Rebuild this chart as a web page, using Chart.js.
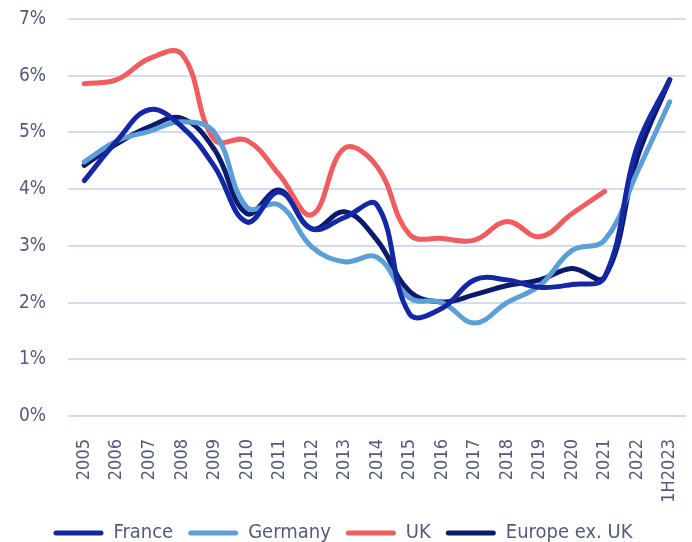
<!DOCTYPE html>
<html>
<head>
<meta charset="utf-8">
<script src="https://cdn.jsdelivr.net/npm/chart.js@4"></script>
<style>
  html, body { margin: 0; padding: 0; background: #fff; overflow: hidden; }
  #wrap { width: 692px; height: 553px; position: relative; }
</style>
</head>
<body>
<div id="wrap"><canvas id="yieldChart"></canvas></div>
<script>
// Data
const years = ['2005', '2006', '2007', '2008', '2009', '2010', '2011', '2012', '2013', '2014',
               '2015', '2016', '2017', '2018', '2019', '2020', '2021', '2022', '1H2023'];
const france  = [4.15, 4.85, 5.4, 5.1, 4.4, 3.42, 3.95, 3.3, 3.5, 3.72, 1.8, 1.9, 2.4, 2.4, 2.27, 2.32, 2.45, 4.75, 5.93];
const germany = [4.48, 4.85, 5.02, 5.19, 5.0, 3.68, 3.72, 2.98, 2.72, 2.8, 2.08, 2.0, 1.64, 2.0, 2.3, 2.92, 3.1, 4.3, 5.54];
const uk      = [5.86, 5.93, 6.3, 6.38, 4.87, 4.86, 4.25, 3.55, 4.72, 4.4, 3.2, 3.13, 3.1, 3.43, 3.16, 3.57, 3.96, null, null];
const europe  = [4.42, 4.8, 5.1, 5.25, 4.7, 3.57, 3.98, 3.3, 3.6, 3.1, 2.2, 2.01, 2.14, 2.3, 2.4, 2.6, 2.45, 4.55, 5.93];
const yTicks  = [0, 1, 2, 3, 4, 5, 6, 7];

const labelColor = '#545b7a';
const fontFamily = '"Liberation Sans Narrow", "DejaVu Sans Condensed", sans-serif';

function series(label, data, color) {
    return {
        label: label,
        data: data,
        borderColor: color,
        backgroundColor: color,
        borderWidth: 5,
        pointRadius: 0,
        tension: 0.4,
        borderCapStyle: 'round',
        borderJoinStyle: 'round',
        spanGaps: false
    };
}

new Chart(document.getElementById('yieldChart'), {
    type: 'line',
    data: {
        labels: years,
        datasets: [
            series('France', france, '#1428a6'),
            series('Germany', germany, '#5b9fd6'),
            series('UK', uk, '#f05d5e'),
            series('Europe ex. UK', europe, '#0c1a6c')
        ]
    },
    options: {
        responsive: true,
        maintainAspectRatio: false,
        animation: false,
        layout: { padding: { top: 19, right: 6, left: 0, bottom: 0 } },
        plugins: {
            tooltip: { enabled: false },
            legend: {
                position: 'bottom',
                labels: {
                    color: labelColor,
                    font: { family: fontFamily, size: 20 },
                    boxWidth: 50,
                    boxHeight: 5,
                    padding: 15,
                    useBorderRadius: true,
                    borderRadius: 2.5,
                    generateLabels: function(chart) {
                        const items = Chart.defaults.plugins.legend.labels.generateLabels(chart);
                        items.forEach(item => { item.lineWidth = 0; });
                        return items;
                    }
                }
            }
        },
        scales: {
            x: {
                offset: true,
                grid: { display: false },
                border: { display: false },
                ticks: {
                    color: labelColor,
                    font: { family: fontFamily, size: 18 },
                    maxRotation: 90,
                    minRotation: 90,
                    padding: 15,
                    autoSkip: false
                },
                afterFit: function(scale) {
                    scale.height = 92;
                    scale.paddingLeft = 0;
                    scale.paddingRight = 0;
                }
            },
            y: {
                min: 0,
                max: 7,
                afterBuildTicks: function(scale) {
                    scale.ticks = yTicks.map(v => ({ value: v }));
                },
                grid: { color: '#d5daf0', lineWidth: 2, drawTicks: false },
                border: { display: false },
                ticks: {
                    color: labelColor,
                    font: { family: fontFamily, size: 19 },
                    padding: 22,
                    callback: function(value) { return value + '%'; }
                },
                afterFit: function(scale) {
                    scale.width = 68;
                    scale.paddingTop = 0;
                    scale.paddingBottom = 0;
                }
            }
        }
    }
});
</script>
</body>
</html>
